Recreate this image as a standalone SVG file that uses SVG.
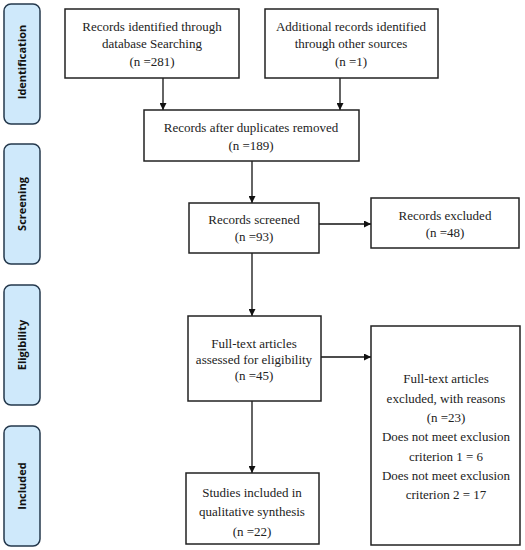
<svg xmlns="http://www.w3.org/2000/svg" width="525" height="550" viewBox="0 0 525 550">
<style>
.box{fill:#fff;stroke:#222;stroke-width:1.5}
.phase{fill:#cfe9fb;stroke:#24384c;stroke-width:1.5}
.t{font-family:"Liberation Serif","Times New Roman",serif;font-size:13px;fill:#222;text-anchor:middle}
.p{font-family:"Open Sans","DejaVu Sans",sans-serif;font-size:11px;font-weight:bold;fill:#111;text-anchor:middle}
.c{stroke:#111;stroke-width:1.3;fill:none}
</style>
<defs>
<marker id="ah" viewBox="0 0 10 10" refX="10" refY="5" markerWidth="7" markerHeight="7" markerUnits="userSpaceOnUse" orient="auto">
<path d="M0,0 L10,5 L0,10 z" fill="#111"/>
</marker>
</defs>
<rect width="525" height="550" fill="#fff"/>
<g id="phase-identification"><rect class="phase" x="4" y="4" width="36" height="120" rx="7"/><text class="p" transform="translate(26,62) rotate(-90)">Identification</text></g>
<g id="phase-screening"><rect class="phase" x="4" y="144" width="36" height="120" rx="7"/><text class="p" transform="translate(26,204) rotate(-90)">Screening</text></g>
<g id="phase-eligibility"><rect class="phase" x="4" y="285" width="36" height="120" rx="7"/><text class="p" transform="translate(26,345) rotate(-90)">Eligibility</text></g>
<g id="phase-included"><rect class="phase" x="4" y="426" width="36" height="120" rx="7"/><text class="p" transform="translate(26,486) rotate(-90)">Included</text></g>

<g id="connectors">
<line class="c" x1="163" y1="78" x2="163" y2="110" marker-end="url(#ah)"/>
<line class="c" x1="340" y1="78" x2="340" y2="110" marker-end="url(#ah)"/>
<line class="c" x1="252" y1="161" x2="252" y2="203" marker-end="url(#ah)"/>
<line class="c" x1="319" y1="224" x2="371" y2="224" marker-end="url(#ah)"/>
<line class="c" x1="252" y1="253" x2="252" y2="316" marker-end="url(#ah)"/>
<line class="c" x1="321" y1="357" x2="371" y2="357" marker-end="url(#ah)"/>
<line class="c" x1="252" y1="401" x2="252" y2="473" marker-end="url(#ah)"/>
</g>

<g id="db-records"><rect class="box" x="65" y="9" width="174" height="69"/>
<text class="t" x="152" y="31">Records identified through</text>
<text class="t" x="152" y="48">database Searching</text>
<text class="t" x="152" y="66">(n =281)</text></g>
<g id="other-records"><rect class="box" x="265" y="9" width="173" height="69"/>
<text class="t" x="351" y="31">Additional records identified</text>
<text class="t" x="351" y="48">through other sources</text>
<text class="t" x="351" y="66">(n =1)</text></g>
<g id="dedup"><rect class="box" x="144" y="110" width="215" height="51"/>
<text class="t" x="251" y="132">Records after duplicates removed</text>
<text class="t" x="251" y="150">(n =189)</text></g>
<g id="screened"><rect class="box" x="189" y="203" width="130" height="50"/>
<text class="t" x="254" y="224">Records screened</text>
<text class="t" x="254" y="241">(n =93)</text></g>
<g id="excluded"><rect class="box" x="371" y="198" width="148" height="50"/>
<text class="t" x="445" y="220">Records excluded</text>
<text class="t" x="445" y="237">(n =48)</text></g>
<g id="fulltext"><rect class="box" x="188" y="316" width="133" height="85"/>
<text class="t" x="254" y="348">Full-text articles</text>
<text class="t" x="254" y="364">assessed for eligibility</text>
<text class="t" x="254" y="380">(n =45)</text></g>
<g id="fulltext-excluded"><rect class="box" x="371" y="326" width="149" height="219"/>
<text class="t" x="446" y="383">Full-text articles</text>
<text class="t" x="446" y="402.5">excluded, with reasons</text>
<text class="t" x="446" y="421.5">(n =23)</text>
<text class="t" x="446" y="441">Does not meet exclusion</text>
<text class="t" x="446" y="460.5">criterion 1 = 6</text>
<text class="t" x="446" y="480">Does not meet exclusion</text>
<text class="t" x="446" y="499">criterion 2 = 17</text></g>
<g id="included"><rect class="box" x="186" y="473" width="133" height="71"/>
<text class="t" x="252" y="497">Studies included in</text>
<text class="t" x="252" y="516">qualitative synthesis</text>
<text class="t" x="252" y="536">(n =22)</text></g>
</svg>
